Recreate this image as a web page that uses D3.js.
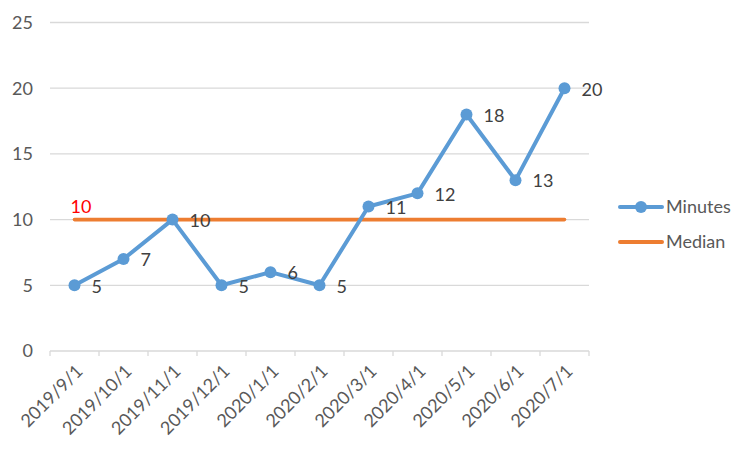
<!DOCTYPE html>
<html><head><meta charset="utf-8">
<script src="https://cdn.jsdelivr.net/npm/d3@7"></script>
<style>body{margin:0;background:#fff}</style>
</head><body>
<script>
const categories = ["2019/9/1","2019/10/1","2019/11/1","2019/12/1","2020/1/1","2020/2/1","2020/3/1","2020/4/1","2020/5/1","2020/6/1","2020/7/1"];
const minutes = [5,7,10,5,6,5,11,12,18,13,20];
const median = [10,10,10,10,10,10,10,10,10,10,10];
const yTicks = [0,5,10,15,20,25];
const seriesNames = ["Minutes","Median"];

const W=750,H=450;
const svg=d3.select("body").append("svg").attr("width",W).attr("height",H);
const font="Lato, 'Open Sans', sans-serif";
const fs=18;
const x=d3.scaleBand().domain(categories).range([50,589]);
const y=d3.scaleLinear().domain([0,25]).range([351,22.5]);
const cx=d=>x(d)+x.bandwidth()/2;

// gridlines
svg.append("g").selectAll("line").data(yTicks.filter(t=>t>0)).join("line")
 .attr("x1",50).attr("x2",589).attr("y1",d=>y(d)).attr("y2",d=>y(d))
 .attr("stroke","#d9d9d9").attr("stroke-width",1.3);

// y labels
svg.append("g").selectAll("text").data(yTicks).join("text")
 .attr("x",33).attr("y",d=>y(d)).attr("dy","0.35em").attr("text-anchor","end")
 .attr("font-family",font).attr("font-size",fs).attr("fill","#595959").text(d=>d);

// x axis
const xa=svg.append("g").attr("transform","translate(0,351)")
 .call(d3.axisBottom(x).tickSize(0).tickFormat(""));
xa.select(".domain").remove();
svg.append("line").attr("x1",50).attr("x2",589).attr("y1",351).attr("y2",351).attr("stroke","#d9d9d9").attr("stroke-width",1.3);
const bounds=categories.map(c=>x(c)).concat([589]);
svg.append("g").selectAll("line").data(bounds).join("line")
 .attr("x1",d=>d).attr("x2",d=>d).attr("y1",351).attr("y2",356)
 .attr("stroke","#d9d9d9").attr("stroke-width",1.3);
svg.append("g").selectAll("text").data(categories).join("text")
 .attr("transform",d=>`translate(${cx(d)+5},${368}) rotate(-45)`)
 .attr("text-anchor","end").attr("dy","0.35em")
 .attr("font-family",font).attr("font-size",fs).attr("fill","#595959").text(d=>d);

// median line
const line=d3.line().x((d,i)=>cx(categories[i])).y(d=>y(d));
svg.append("path").datum(median).attr("d",line).attr("fill","none")
 .attr("stroke","#ED7D31").attr("stroke-width",3.6).attr("stroke-linecap","round");
svg.append("text").attr("x",cx(categories[0])-4).attr("y",y(median[0])-7)
 .attr("font-family",font).attr("font-size",fs).attr("fill","#ff0000").text(median[0]);

// minutes line
svg.append("path").datum(minutes).attr("d",line).attr("fill","none")
 .attr("stroke","#5B9BD5").attr("stroke-width",4).attr("stroke-linejoin","round");
svg.append("g").selectAll("circle").data(minutes).join("circle")
 .attr("cx",(d,i)=>cx(categories[i])).attr("cy",d=>y(d)).attr("r",6).attr("fill","#5B9BD5");
svg.append("g").selectAll("text").data(minutes).join("text")
 .attr("x",(d,i)=>cx(categories[i])+17).attr("y",d=>y(d)+1).attr("dy","0.35em")
 .attr("font-family",font).attr("font-size",fs).attr("fill","#404040").text(d=>d);

// legend
const lg=svg.append("g");
const colors=["#5B9BD5","#ED7D31"];
seriesNames.forEach((n,i)=>{
  const ly=207+i*35;
  lg.append("line").attr("x1",620).attr("x2",662).attr("y1",ly).attr("y2",ly)
   .attr("stroke",colors[i]).attr("stroke-width",4).attr("stroke-linecap","round");
  if(i===0) lg.append("circle").attr("cx",641).attr("cy",ly).attr("r",6).attr("fill",colors[i]);
  lg.append("text").attr("x",666).attr("y",ly).attr("dy","0.35em")
   .attr("font-family",font).attr("font-size",fs).attr("fill","#595959").text(n);
});
</script>
</body></html>
